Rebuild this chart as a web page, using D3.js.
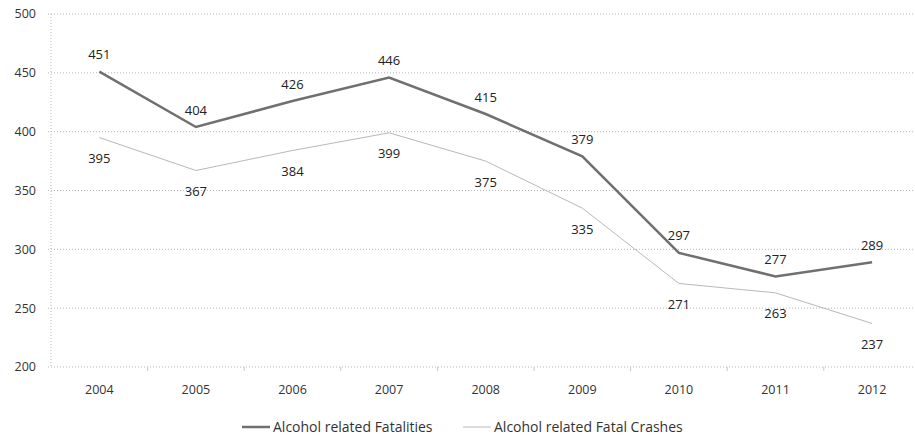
<!DOCTYPE html>
<html>
<head>
<meta charset="utf-8">
<script src="https://cdn.jsdelivr.net/npm/d3@7"></script>
<style>
  body { margin: 0; background: #fff; }
  svg { display: block; font-family: "Open Sans", Lato, sans-serif; }
  .tick-label { font-size: 12.5px; fill: #333; }
  .data-label { font-size: 13px; fill: #222; }
  .legend-label { font-size: 14px; fill: #333; }
</style>
</head>
<body>
<svg id="chart" width="915" height="440"></svg>
<script>
const years = ['2004', '2005', '2006', '2007', '2008', '2009', '2010', '2011', '2012'];
const fatalities = [451, 404, 426, 446, 415, 379, 297, 277, 289];
const fatalCrashes = [395, 367, 384, 399, 375, 335, 271, 263, 237];
const yTicks = [200, 250, 300, 350, 400, 450, 500];

const svg = d3.select('#chart');
const plotLeft = 51, plotTop = 14, plotBottom = 367;

const x = d3.scalePoint()
    .domain(years)
    .range([plotLeft, plotLeft + 9 * 96.6])
    .padding(0.5);

const y = d3.scaleLinear()
    .domain([200, 500])
    .range([plotBottom, plotTop]);

// Gridlines
svg.append('g')
    .selectAll('line')
    .data(yTicks)
    .enter().append('line')
    .attr('x1', plotLeft - 3)
    .attr('x2', 915)
    .attr('y1', d => y(d))
    .attr('y2', d => y(d))
    .attr('stroke', '#b5b5b5')
    .attr('stroke-width', 1)
    .attr('stroke-dasharray', '1,2');

// Y axis line
svg.append('line')
    .attr('x1', plotLeft).attr('x2', plotLeft)
    .attr('y1', plotTop).attr('y2', plotBottom)
    .attr('stroke', '#b5b5b5')
    .attr('stroke-dasharray', '1,2');

// X tick marks at category boundaries
const step = x.step();
svg.append('g')
    .selectAll('line')
    .data(years)
    .enter().append('line')
    .attr('x1', d => x(d) + step / 2)
    .attr('x2', d => x(d) + step / 2)
    .attr('y1', plotBottom)
    .attr('y2', plotBottom + 4)
    .attr('stroke', '#c8c8c8');

// Y tick labels
svg.append('g')
    .selectAll('text')
    .data(yTicks)
    .enter().append('text')
    .attr('class', 'tick-label')
    .attr('x', 36)
    .attr('y', d => y(d))
    .attr('dy', '0.35em')
    .attr('text-anchor', 'end')
    .text(d => d);

// X tick labels
svg.append('g')
    .selectAll('text')
    .data(years)
    .enter().append('text')
    .attr('class', 'tick-label')
    .attr('x', d => x(d))
    .attr('y', 390)
    .attr('dy', '0.35em')
    .attr('text-anchor', 'middle')
    .text(d => d);

const line = d3.line()
    .x((d, i) => x(years[i]))
    .y(d => y(d));

// Fatal crashes (light)
svg.append('path')
    .datum(fatalCrashes)
    .attr('fill', 'none')
    .attr('stroke', '#b8b8b8')
    .attr('stroke-width', 1)
    .attr('d', line);

// Fatalities (dark)
svg.append('path')
    .datum(fatalities)
    .attr('fill', 'none')
    .attr('stroke', '#707070')
    .attr('stroke-width', 2.5)
    .attr('d', line);

// Data labels
svg.append('g')
    .selectAll('text')
    .data(fatalities)
    .enter().append('text')
    .attr('class', 'data-label')
    .attr('x', (d, i) => x(years[i]))
    .attr('y', d => y(d) - 17)
    .attr('dy', '0.35em')
    .attr('text-anchor', 'middle')
    .text(d => d);

svg.append('g')
    .selectAll('text')
    .data(fatalCrashes)
    .enter().append('text')
    .attr('class', 'data-label')
    .attr('x', (d, i) => x(years[i]))
    .attr('y', d => y(d) + 21)
    .attr('dy', '0.35em')
    .attr('text-anchor', 'middle')
    .text(d => d);

// Legend
const legendItems = [
    { label: 'Alcohol related Fatalities', color: '#707070', width: 2.5, x: 242 },
    { label: 'Alcohol related Fatal Crashes', color: '#b8b8b8', width: 1, x: 463 }
];
const legend = svg.append('g')
    .selectAll('g')
    .data(legendItems)
    .enter().append('g')
    .attr('transform', d => `translate(${d.x},427)`);

legend.append('line')
    .attr('x1', 0).attr('x2', 28)
    .attr('stroke', d => d.color)
    .attr('stroke-width', d => d.width);

legend.append('text')
    .attr('class', 'legend-label')
    .attr('x', 31)
    .attr('dy', '0.35em')
    .text(d => d.label);
</script>
</body>
</html>
